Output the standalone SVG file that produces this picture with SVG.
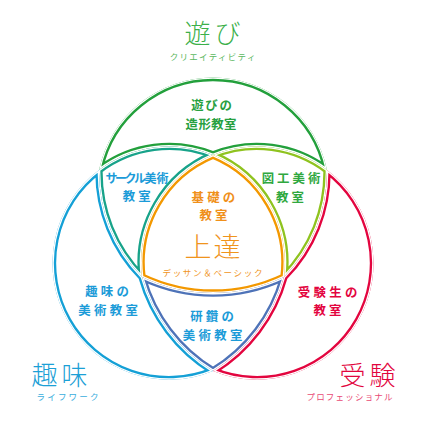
<svg xmlns="http://www.w3.org/2000/svg" width="425" height="425" viewBox="0 0 425 425">
<style>
.band{fill:none;stroke-width:7.4;stroke-linejoin:miter;stroke-miterlimit:40}
.gap{fill:none;stroke:#fff;stroke-width:2.7;stroke-linejoin:miter;stroke-miterlimit:40}
.lb{font-family:"Noto Sans CJK JP","Noto Sans CJK SC",sans-serif;font-weight:700;font-size:12.4px;text-anchor:middle}
.tt{font-family:"Noto Sans CJK JP","Noto Sans CJK SC",sans-serif;font-weight:300;font-size:26px;text-anchor:middle}
.st{font-weight:400;font-size:8.5px}
</style>
<defs>
<path id="pG" d="M99,170 A116.5,116.5 0 0 1 327,170 A116.5,116.5 0 0 0 213,155 A116.5,116.5 0 0 0 99,170 Z"/>
<path id="pGB" d="M99,170 A116.5,116.5 0 0 1 213,155 A116.5,116.5 0 0 0 142,277 A149,149 0 0 1 99,170 Z"/>
<path id="pGR" d="M327,170 A116.5,116.5 0 0 0 213,155 A116.5,116.5 0 0 1 284,277 A149,149 0 0 0 327,170 Z"/>
<path id="pC" d="M213,155 A116.5,116.5 0 0 1 284,277 A165,165 0 0 1 142,277 A116.5,116.5 0 0 1 213,155 Z"/>
<path id="pBR" d="M142,277 A165,165 0 0 0 284,277 A160,160 0 0 1 213,371 A160,160 0 0 1 142,277 Z"/>
<path id="pB" d="M99,170 A149,149 0 0 0 142,277 A160,160 0 0 0 213,371 A116.5,116.5 0 0 1 99,170 Z"/>
<path id="pR" d="M327,170 A116.5,116.5 0 0 1 213,371 A160,160 0 0 0 284,277 A149,149 0 0 0 327,170 Z"/>
<clipPath id="cG"><use href="#pG"/></clipPath>
<clipPath id="cGB"><use href="#pGB"/></clipPath>
<clipPath id="cGR"><use href="#pGR"/></clipPath>
<clipPath id="cC"><use href="#pC"/></clipPath>
<clipPath id="cBR"><use href="#pBR"/></clipPath>
<clipPath id="cB"><use href="#pB"/></clipPath>
<clipPath id="cR"><use href="#pR"/></clipPath>
</defs>
<rect width="425" height="425" fill="#fff"/>

<g id="asobi-zokei">
<use href="#pG" class="band" clip-path="url(#cG)" stroke="#23a03c"/>
<use href="#pG" class="gap" clip-path="url(#cG)"/>
<text class="lb" fill="#27a040"><tspan x="212.4" y="110.4" style="letter-spacing:1.75px">遊びの</tspan><tspan x="211.2" y="128.6" style="letter-spacing:0.4px">造形教室</tspan></text>
</g>

<g id="circle-bijutsu">
<use href="#pGB" class="band" clip-path="url(#cGB)" stroke="#18a38a"/>
<use href="#pGB" class="gap" clip-path="url(#cGB)"/>
<text class="lb" fill="#1b9bd8"><tspan x="137" y="182.9" style="font-size:12px"><tspan style="letter-spacing:-2.5px">サーク</tspan><tspan style="letter-spacing:-1.5px">ル</tspan>美術</tspan><tspan x="138.2" y="201.1" style="letter-spacing:3px">教室</tspan></text>
</g>

<g id="zuko-bijutsu">
<use href="#pGR" class="band" clip-path="url(#cGR)" stroke="#8fc31f"/>
<use href="#pGR" class="gap" clip-path="url(#cGR)"/>
<text class="lb" fill="#2fa83f"><tspan x="292.5" y="183.3" style="letter-spacing:3px">図工美術</tspan><tspan x="291.5" y="201.5" style="letter-spacing:3px">教室</tspan></text>
</g>

<g id="kiso">
<use href="#pC" class="band" clip-path="url(#cC)" stroke="#f39800"/>
<use href="#pC" class="gap" clip-path="url(#cC)"/>
<text class="lb" fill="#f0901a"><tspan x="215" y="201.7" style="letter-spacing:3.2px">基礎の</tspan><tspan x="215" y="219.9" style="letter-spacing:3px">教室</tspan></text>
<text class="tt" fill="#f0941c"><tspan x="213.5" y="256.5" style="font-size:27px;letter-spacing:2px">上達</tspan><tspan class="st" x="213.3" y="275.5" style="letter-spacing:1.67px">デッサン＆ベーシック</tspan></text>
</g>

<g id="kensan-bijutsu">
<use href="#pBR" class="band" clip-path="url(#cBR)" stroke="#4e73b8"/>
<use href="#pBR" class="gap" clip-path="url(#cBR)"/>
<text class="lb" fill="#1b9bd8"><tspan x="213.6" y="321.4" style="letter-spacing:3.2px">研鑽の</tspan><tspan x="214.2" y="339.6" style="letter-spacing:3.3px">美術教室</tspan></text>
</g>

<g id="shumi-bijutsu">
<use href="#pB" class="band" clip-path="url(#cB)" stroke="#14a0d6"/>
<use href="#pB" class="gap" clip-path="url(#cB)"/>
<text class="lb" fill="#1b9bd8"><tspan x="108.6" y="296" style="letter-spacing:3.2px">趣味の</tspan><tspan x="109.7" y="315" style="letter-spacing:3.3px">美術教室</tspan></text>
</g>

<g id="jukensei">
<use href="#pR" class="band" clip-path="url(#cR)" stroke="#e3053f"/>
<use href="#pR" class="gap" clip-path="url(#cR)"/>
<text class="lb" fill="#e3053f"><tspan x="329.2" y="296.9" style="letter-spacing:3.3px">受験生の</tspan><tspan x="329" y="315.1" style="letter-spacing:3px">教室</tspan></text>
</g>

<g id="title-asobi">
<text class="tt" fill="#3bb04a"><tspan x="214.5" y="43" style="letter-spacing:4px">遊び</tspan><tspan class="st" x="213.2" y="59.5" fill="#5cb860" style="letter-spacing:1.3px">クリエイティビティ</tspan></text>
</g>
<g id="title-shumi">
<text class="tt" fill="#1ba0d6"><tspan x="61.5" y="384.5" style="letter-spacing:4px">趣味</tspan><tspan class="st" x="68.6" y="400" fill="#3aaedd" style="letter-spacing:2.2px">ライフワーク</tspan></text>
</g>
<g id="title-juken">
<text class="tt" fill="#e2063e"><tspan x="369.5" y="384.5" style="letter-spacing:4px">受験</tspan><tspan class="st" x="350.1" y="400" fill="#e84a75" style="letter-spacing:1.2px">プロフェッショナル</tspan></text>
</g>
</svg>
